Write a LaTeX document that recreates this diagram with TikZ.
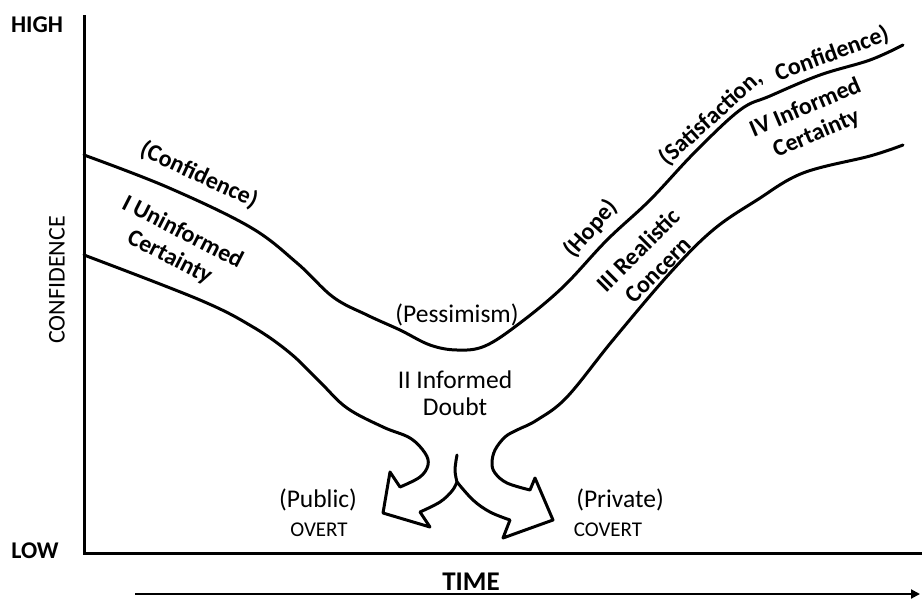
\documentclass[tikz,border=0pt]{standalone}
\usepackage{fontspec}
\setmainfont{Carlito}
\usetikzlibrary{arrows.meta}
\begin{document}
\begin{tikzpicture}[x=1pt,y=-1pt,
  axis/.style={line width=3pt},
  curve/.style={line width=3pt, line join=round, line cap=round},
  lab/.style={font=\fontsize{24}{28}\selectfont\bfseries, inner sep=0pt, align=center},
  labr/.style={font=\fontsize{25.5}{27}\selectfont, inner sep=0pt, align=center},
  small/.style={font=\fontsize{21}{23}\selectfont, inner sep=0pt}]
\useasboundingbox[fill=white] (0,0) rectangle (922,598);

% axes
\coordinate (ytop) at (84,15);
\coordinate (origin) at (84,553);
\coordinate (xend) at (924,553);
\draw[axis] (ytop) -- (origin) -- (xend);

% upper curve
\draw[curve] plot[smooth, tension=0.6] coordinates {(84,155) (167,187) (250,227) (297,263) (333,297) (367,315) (400,330) (430,345) (457,350) (485,346) (520,323) (563,287) (607,240) (650,200) (695,152) (740,110) (770,96) (820,75) (870,60) (903,45)};

% lower left curve with arrow
\draw[curve] plot[smooth, tension=0.6] coordinates {(84,255) (200,300) (253,327) (290,353) (320,382) (347,408) (383,427) (410,438) (425,453) (428,465) (420,477) (400,487)}
  -- (390,472) -- (383,513) -- (430,527) -- (420,512)
  plot[smooth, tension=0.6] coordinates {(420,512) (440,502) (452,491) (457,482)};

% stem
\draw[curve] plot[smooth, tension=0.6] coordinates {(457,455) (455,470) (457,482)};

% lower right curve with arrow
\draw[curve] plot[smooth, tension=0.6] coordinates {(903,145) (870,156) (803,173) (757,200) (713,230) (670,273) (613,340) (567,397) (537,420) (517,430) (505,437) (495,450) (492,463) (495,473) (507,483) (530,490)}
  -- (535,478) -- (553,520) -- (503,538) -- (510,520)
  plot[smooth, tension=0.6] coordinates {(510,520) (490,512) (473,500) (457,482)};

% time arrow
\coordinate (t0) at (135,594);
\coordinate (t1) at (920,594);
\draw[line width=2pt, -{Triangle[length=9pt,width=9pt]}] (t0) -- (t1);

% axis labels
\node[lab] (high) at (37,25) {HIGH};
\node[lab] (low) at (35,551) {LOW};
\node[labr, font=\fontsize{24}{26}\selectfont, rotate=90] (conf) at (57,280) {CONFIDENCE};
\node[lab, font=\fontsize{27}{29}\selectfont\bfseries] (time) at (471,582) {TIME};

% curve labels
\node[lab, rotate=-25] (confid) at (199,175) {(Confidence)};
\node[lab, rotate=-27] (unif) at (176,245) {I Uninformed\\Certainty};
\node[labr] (pess) at (457,315) {(Pessimism)};
\node[labr] (doubt) at (455,393) {II Informed\\Doubt};
\node[lab, rotate=48] (hope) at (591,229) {(Hope)};
\node[lab, rotate=45] (real) at (648,260) {III Realistic\\Concern};
\node[lab, rotate=23] (ivinf) at (811,121) {IV Informed\\Certainty};
\node[lab, rotate=42] (satis) at (711,118) {(Satisfaction,};
\node[lab, rotate=20] (confid2) at (832,54) {Confidence)};

\node[labr] (public) at (318,500) {(Public)};
\node[small] (overt) at (319,530) {OVERT};
\node[labr] (private) at (620,500) {(Private)};
\node[small] (covert) at (608,530) {COVERT};
\end{tikzpicture}
\end{document}
